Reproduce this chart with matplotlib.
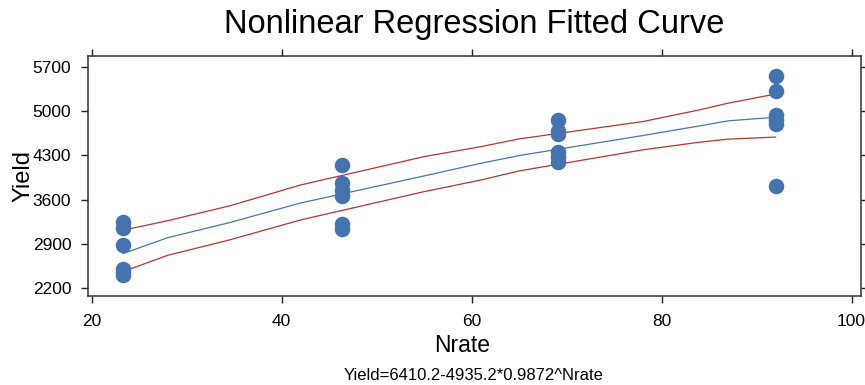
import numpy as np
import matplotlib
matplotlib.use('Agg')
from matplotlib import pyplot as plt

plt.rcParams['font.family'] = ['Liberation Sans', 'DejaVu Sans']

# observed data (Nrate, Yield)
nrate = [23.3, 23.3, 23.3, 23.3, 23.3, 23.3,
         46.3, 46.3, 46.3, 46.3, 46.3, 46.3,
         69.1, 69.1, 69.1, 69.1, 69.1, 69.1,
         92, 92, 92, 92, 92, 92]
yld = [3250, 3150, 2880, 2500, 2450, 2410,
       4140, 3870, 3750, 3650, 3210, 3140,
       4860, 4680, 4640, 4350, 4270, 4200,
       5550, 5320, 4940, 4860, 4790, 3820]

# fitted curve and confidence band
curve_x = [23.3, 28, 34.5, 42, 55, 61, 65, 78, 84, 87, 92]
fit_y = [2745, 2997, 3235, 3547, 3975, 4176, 4297, 4614, 4767, 4847, 4904]
upper_y = [3115, 3266, 3500, 3832, 4281, 4439, 4561, 4835, 5021, 5127, 5271]
lower_y = [2460, 2718, 2961, 3278, 3726, 3911, 4054, 4387, 4509, 4557, 4590]

x_ticks = [20, 40, 60, 80, 100]
y_ticks = [2200, 2900, 3600, 4300, 5000, 5700]

fig = plt.figure(figsize=(8.65, 3.85), dpi=100)
ax = fig.add_axes([88/865, 1 - 296/385, 773/865, 240/385])

ax.plot(curve_x, upper_y, color='#b5352f', lw=0.9)
ax.plot(curve_x, lower_y, color='#b5352f', lw=0.9)
ax.plot(curve_x, fit_y, color='#4676b2', lw=0.9)
ax.scatter(nrate, yld, s=125, color='#4573ad', zorder=3, linewidths=0)

ax.set_xlim(19.6, 101)
ax.set_ylim(2073, 5874)
ax.set_xticks(x_ticks)
ax.set_yticks(y_ticks)
ax.tick_params(direction='out', length=5, width=1, labelsize=12.5,
               top=True, right=True, color='#222222')
ax.tick_params(axis='y', pad=7)
ax.tick_params(axis='x', pad=8)
for s in ax.spines.values():
    s.set_linewidth(1.1)
    s.set_color('#333333')

ax.set_xlabel('Nrate', fontsize=16.5)
ax.xaxis.set_label_coords((462 - 88) / 773, -50 / 240)
ax.xaxis.label.set_va('center')
ax.set_ylabel('Yield', fontsize=17)
ax.yaxis.set_label_coords((24 - 88) / 773, 0.5)
ax.yaxis.label.set_va('center')

fig.text(474/865, 1 - 24/385, 'Nonlinear Regression Fitted Curve',
         fontsize=23.5, ha='center', va='center')
fig.text(474/865, 1 - 376/385, 'Yield=6410.2-4935.2*0.9872^Nrate',
         fontsize=12, ha='center', va='center')

fig.savefig('out.png', dpi=100)
